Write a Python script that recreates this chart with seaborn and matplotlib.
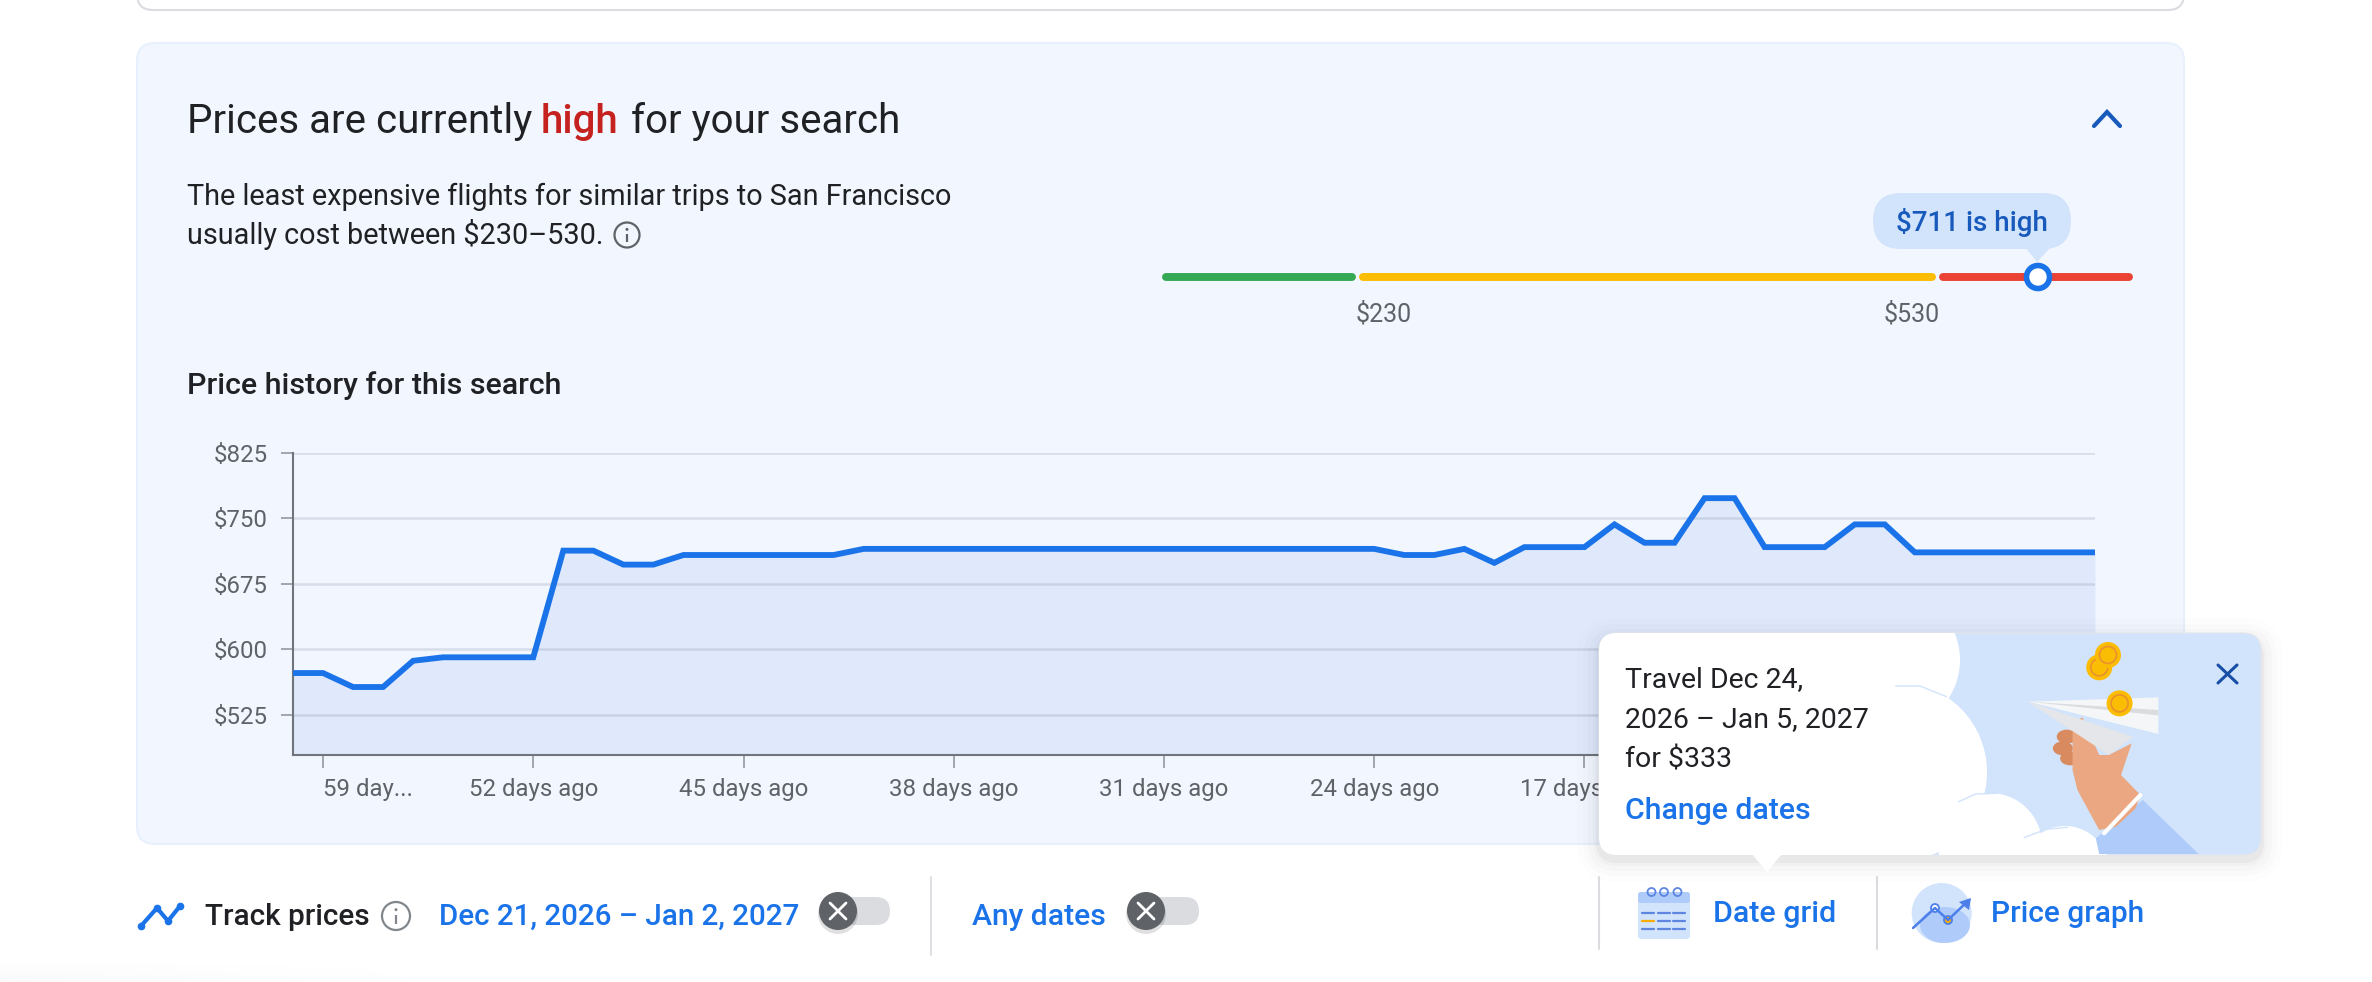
import matplotlib
matplotlib.use("Agg")
import matplotlib.pyplot as plt
from matplotlib.patches import FancyBboxPatch, Circle, Ellipse, Polygon, Rectangle
import numpy as np
import pandas as pd
import seaborn as sns

W, H = 2372, 982

days_ago = list(range(60, -1, -1))
prices = [573, 573, 557, 557, 587, 591, 591, 591, 591, 713, 713, 697, 697, 708, 708, 708, 708, 708, 708,
          715, 715, 715, 715, 715, 715, 715, 715, 715, 715, 715, 715, 715, 715, 715, 715, 715, 715,
          708, 708, 715, 699, 717, 717, 717, 743, 722, 722, 773, 773, 717, 717, 717, 743, 743,
          711, 711, 711, 711, 711, 711, 711]
y_ticks = [525, 600, 675, 750, 825]
y_labels = ["$525", "$600", "$675", "$750", "$825"]
x_ticks = [59, 52, 45, 38, 31, 24, 17]
x_labels = ["59 day...", "52 days ago", "45 days ago", "38 days ago", "31 days ago",
            "24 days ago", "17 days ago"]

range_edges = [128, 230, 530, 632]
range_colors = ["#34a853", "#fbbc04", "#ea4335"]
range_labels = ["$230", "$530"]

BLUE = "#1a73e8"
DARK = "#202124"
GREY = "#5f6368"
PALE = "#d2e3fc"

sns.set_theme(style="white")
plt.rcParams["font.family"] = ["Roboto", "DejaVu Sans"]

fig = plt.figure(figsize=(W / 100, H / 100), dpi=100, facecolor="white")


def px_axes(zorder):
    ax = fig.add_axes([0, 0, 1, 1], zorder=zorder)
    ax.set_xlim(0, W)
    ax.set_ylim(H, 0)
    ax.axis("off")
    ax.patch.set_alpha(0)
    return ax


def round_box(ax, x0, y0, x1, y1, r, **kw):
    box = FancyBboxPatch((x0 + r, y0 + r), x1 - x0 - 2 * r, y1 - y0 - 2 * r,
                         boxstyle=f"round,pad={r},rounding_size={r}", **kw)
    ax.add_patch(box)
    return box


def label(ax, x, y, s, size, color=DARK, weight="normal", **kw):
    return ax.text(x, y, s, fontsize=size, color=color, fontweight=weight, va="baseline", **kw)


def info_icon(ax, x, y, r, color):
    ax.add_patch(Circle((x, y), r, fc="none", ec=color, lw=1.6))
    ax.plot([x, x], [y - 1, y + r * 0.55], color=color, lw=1.6, solid_capstyle="butt")
    ax.add_patch(Circle((x, y - r * 0.45), 1.5, fc=color, ec="none"))


def toggle(ax, x0, x1, y0, y1, knob_x):
    knob_y = (y0 + y1) / 2
    round_box(ax, x0, y0, x1, y1, (y1 - y0) / 2, fc="#dadce0", ec="none")
    ax.add_patch(Circle((knob_x, knob_y + 3), 20, fc="#000000", ec="none", alpha=0.12))
    ax.add_patch(Circle((knob_x, knob_y), 19, fc=GREY, ec="none"))
    d = 8
    ax.plot([knob_x - d, knob_x + d], [knob_y - d, knob_y + d], color="white", lw=2)
    ax.plot([knob_x - d, knob_x + d], [knob_y + d, knob_y - d], color="white", lw=2)


# background: previous card edge, price card, texts, range bar
back = px_axes(0)
shade = np.linspace(0, 1, 20)[:, None] * np.linspace(1, 0, 60)[None, :]
back.imshow(shade, extent=(0, 450, H, 960), cmap="Greys", vmin=0, vmax=25, aspect="auto", zorder=0)
back.set_xlim(0, W)
back.set_ylim(H, 0)
round_box(back, 137, -40, 2184, 10, 16, fc="white", ec="#dadce0", lw=1.5)
round_box(back, 137, 43, 2184, 844, 18, fc="#f2f6fe", ec="#e8f0fe", lw=1.5)

label(back, 187, 133, "Prices are currently", 29)
label(back, 541, 133, "high", 29, color="#c5221f", weight="medium")
label(back, 631, 133, "for your search", 29)
label(back, 187, 205, "The least expensive flights for similar trips to San Francisco", 20.8)
label(back, 187, 244, "usually cost between $230\u2013530.", 20.8)
info_icon(back, 627, 235, 12.5, GREY)
label(back, 187, 394, "Price history for this search", 21.9, weight="medium")

back.plot([2094, 2107, 2120], [126, 112, 126], color="#185abc", lw=3, solid_joinstyle="miter")

# range bar sits on its own scale
bar = fig.add_axes([1160 / W, 1 - 281 / H, (2135 - 1160) / W, 8 / H], zorder=1)
bar.set_xlim(range_edges[0], range_edges[-1])
bar.set_ylim(0, 1)
bar.axis("off")
bar.patch.set_alpha(0)
for lo, hi, col in zip(range_edges[:-1], range_edges[1:], range_colors):
    bar.plot([lo + 3, hi - 3], [0.5, 0.5], color=col, lw=5.7, solid_capstyle="round", clip_on=False)
to_px = lambda v: 1160 + (v - range_edges[0]) / (range_edges[-1] - range_edges[0]) * (2135 - 1160)
for v, s in zip(range_edges[1:3], range_labels):
    back.text(to_px(v) + (26 if v == 230 else -26), 321.5, s, fontsize=18, color=GREY, ha="center", va="baseline")

# price history
ax = fig.add_axes([293 / W, 1 - 754.7 / H, (2095 - 293) / W, (754.7 - 452.7) / H], zorder=2)
ax.patch.set_alpha(0)
df = pd.DataFrame({"days_ago": days_ago, "price": prices})
sns.lineplot(data=df, x="days_ago", y="price", ax=ax, color=BLUE, linewidth=4.2, zorder=4)
ax.fill_between(df["days_ago"], df["price"], 479.6, color="#e0e9fc", linewidth=0, zorder=1)
ax.lines[0].set_solid_joinstyle("miter")
ax.lines[0].set_solid_capstyle("butt")
ax.set_xlim(60, 0)
ax.set_ylim(479.6, 825)
for t in y_ticks:
    ax.axhline(t, color="#5f6f8f", alpha=0.18, lw=1.8, zorder=2)
ax.set_yticks(y_ticks, y_labels)
ax.set_xticks(x_ticks, x_labels)
ax.set_xlabel("")
ax.set_ylabel("")
ax.tick_params(axis="both", length=9, width=1.3, color="#9aa0a6", labelsize=17.3, labelcolor=GREY,
               bottom=True, left=True, pad=8)
ax.tick_params(axis="y", pad=9)
ax.get_xticklabels()[0].set_ha("left")
sns.despine(ax=ax)
for side in ["left", "bottom"]:
    ax.spines[side].set_color("#70757a")
    ax.spines[side].set_linewidth(1.5)

# front layer: slider bubble, popup, bottom row
front = px_axes(3)

round_box(front, 1873, 193, 2071, 249, 28, fc=PALE, ec="none")
front.add_patch(Polygon([[2026, 248], [2050, 248], [2037, 262]], fc=PALE, ec="none"))
label(front, 1972, 231, "$711 is high", 20, color="#185abc", weight="medium", ha="center")
front.add_patch(Circle((2038, 277), 11.5, fc="white", ec=BLUE, lw=4))

for off, a in [(22, 0.006), (16, 0.01), (11, 0.014), (6, 0.02), (3, 0.035)]:
    round_box(front, 1599 - off, 633 - off + 7, 2261 + off, 855 + off + 5, 18 + off, fc="black", ec="none", alpha=a)
popup = round_box(front, 1599, 633, 2261, 855, 18, fc=PALE, ec="#e3e5ea", lw=0.8)
front.add_patch(Polygon([[1752, 854], [1782, 854], [1767, 872]], fc="white", ec="none", zorder=3))


def z5(pts):
    return [[1520 + p * 0.4847, 480 + q / 3] for p, q in pts]


clouds = [Rectangle((1599, 633), 300, 222), Circle((1890, 660), 70), Circle((1897, 772), 90),
          Circle((1990, 845), 52), Circle((2065, 870), 44)]
for c in clouds:
    c.set(fc="white", ec="none", clip_path=popup)
    front.add_patch(c)
for arc in [[(775, 618), (825, 618), (880, 650)], [(905, 965), (940, 942), (985, 940)],
            [(1040, 1073), (1085, 1048), (1130, 1042)]]:
    front.plot(*zip(*z5(arc)), color=PALE, lw=1)

front.add_patch(Polygon(z5([(1285, 960), (1400, 1122), (1195, 1122), (1188, 1075)]), fc="#aecbfa", ec="none"))
front.add_patch(Polygon(z5([(1048, 665), (1317, 652), (1317, 762)]), fc="#f5f6f7", ec="none"))
front.add_patch(Polygon(z5([(1048, 665), (1317, 690), (1317, 706)]), fc="#dadce0", ec="none"))
for sx, q in [(1128, 770), (1120, 805), (1135, 835)]:
    front.add_patch(Ellipse(z5([(sx, q)])[0], 20, 14, fc="#d98b5f", ec="none"))
front.add_patch(Polygon(z5([(1140, 730), (1160, 712), (1195, 825), (1215, 825), (1262, 790), (1240, 885), (1280, 945),
                            (1270, 985), (1230, 1040), (1195, 1050), (1150, 930), (1140, 870)]), fc="#eaa782", ec="none"))
front.add_patch(Polygon(z5([(1048, 665), (1265, 770), (1215, 825)]), fc="#e4e6e9", ec="none"))
front.plot(*zip(*z5([(1280, 945), (1205, 1060)])), color="white", lw=3)
for p, q in [(1195, 562), (1213, 525), (1237, 670)]:
    front.add_patch(Circle(z5([(p, q)])[0], 13, fc="#fbbc04", ec="none"))
    front.add_patch(Circle(z5([(p, q)])[0], 8.5, fc="none", ec="#e8912d", lw=1.2))

label(front, 1625, 687, "Travel Dec 24,", 20.5)
label(front, 1625, 727, "2026 \u2013 Jan 5, 2027", 20.5)
label(front, 1625, 767, "for $333", 20.5)
label(front, 1625, 819, "Change dates", 21.8, color=BLUE, weight="medium")
front.plot([2218, 2237], [665, 683], color="#174ea6", lw=2.2)
front.plot([2218, 2237], [683, 665], color="#174ea6", lw=2.2)

# bottom row
front.plot([141, 157, 168, 180], [926, 908, 921, 906], color=BLUE, lw=3, marker="o", ms=4.5)
label(front, 205, 925, "Track prices", 21.4, weight="medium")
info_icon(front, 396, 916, 14, "#80868b")
label(front, 439, 925, "Dec 21, 2026 \u2013 Jan 2, 2027", 21.3, color=BLUE, weight="medium")
toggle(front, 821, 890, 897, 925, 838)
front.plot([931, 931], [877, 955], color="#dadce0", lw=1.3)
label(front, 972, 925, "Any dates", 21.7, color=BLUE, weight="medium")
toggle(front, 1130, 1199, 897, 925, 1146)
front.plot([1599, 1599], [877, 949], color="#dadce0", lw=1.5)
front.plot([1877, 1877], [877, 949], color="#dadce0", lw=1.5)

round_box(front, 1638, 892, 1690, 939, 3, fc=PALE, ec="none")
round_box(front, 1638, 892, 1690, 903, 3, fc="#aecbfa", ec="none")
for rx in [1651.5, 1664, 1677.5]:
    front.add_patch(Circle((rx, 892), 4, fc="none", ec="#5e86e0", lw=1.3))
for row, ly in enumerate([913, 921, 929]):
    for col, lx in enumerate([1642, 1658, 1673]):
        front.plot([lx, lx + 12], [ly, ly], lw=1.6, color="#f9ab00" if (row, col) == (1, 0) else "#5e86e0")
label(front, 1713, 922, "Date grid", 21.9, color=BLUE, weight="medium")

front.add_patch(Circle((1941.7, 913), 30, fc=PALE, ec="none"))
front.add_patch(Ellipse((1945, 925), 50, 36, fc="#aecbfa", ec="none"))
front.plot([1913, 1935, 1948, 1969], [928, 908, 920, 900], color="#4d7fe8", lw=1.8)
front.add_patch(Circle((1935, 908), 4, fc="white", ec="#4d7fe8", lw=1.3))
front.add_patch(Circle((1948, 920), 4, fc="#f9ab00", ec="#4d7fe8", lw=1.3))
front.add_patch(Polygon([[1971, 898], [1959, 902], [1969, 910]], fc="#4d7fe8", ec="none"))
label(front, 1991, 922, "Price graph", 21.5, color=BLUE, weight="medium")

fig.savefig("out.png", dpi=100)
